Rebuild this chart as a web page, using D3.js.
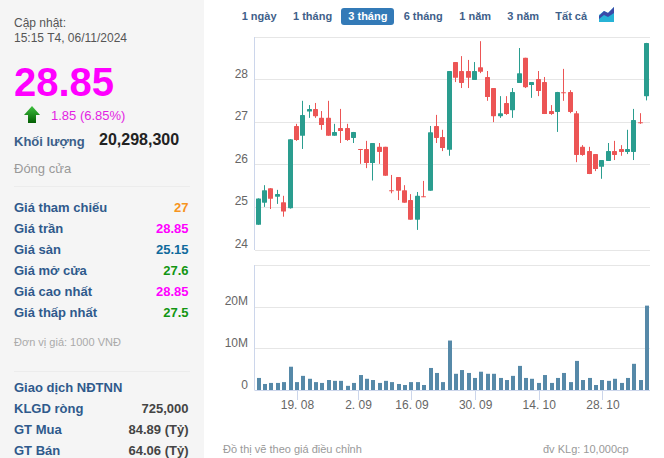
<!DOCTYPE html>
<html><head><meta charset="utf-8">
<script src="https://cdnjs.cloudflare.com/ajax/libs/d3/7.8.5/d3.min.js"></script>
<style>html,body{margin:0;padding:0;background:#fff}svg{display:block}text{font-family:"Liberation Sans",Arial,sans-serif}</style>
</head><body><div id="c"></div>
<script>
const opens=[24.58,25.10,25.44,25.24,25.11,24.97,26.90,26.67,27.24,27.30,27.09,27.09,26.67,26.85,26.85,26.62,26.36,26.36,26.03,26.41,26.41,25.39,25.70,25.39,25.16,24.70,25.25,25.38,26.90,26.64,26.34,28.40,28.19,28.19,27.98,28.28,28.05,27.79,27.13,27.44,27.27,27.91,28.50,27.86,28.00,27.93,27.25,27.23,27.69,27.70,27.20,26.41,26.31,26.24,25.94,26.08,26.31,26.36,26.29,26.29,26.99,27.60];
const highs=[25.20,25.51,25.44,25.40,25.26,26.59,26.95,27.49,27.39,27.44,27.25,27.49,26.95,27.30,26.95,26.76,26.36,26.55,26.50,26.50,26.41,25.75,25.70,25.51,25.30,25.35,25.61,26.90,27.16,26.81,28.19,28.40,28.54,28.45,28.40,28.89,28.19,27.79,27.60,27.60,27.79,28.73,28.50,27.93,28.19,28.05,27.39,27.70,28.24,27.74,27.25,26.45,26.41,26.24,26.10,26.50,26.55,26.45,26.81,27.30,27.20,28.85];
const lows=[24.58,25.00,24.95,25.07,24.77,24.96,26.55,26.36,27.09,27.09,26.81,26.67,26.67,26.50,26.55,26.50,26.01,25.91,25.62,26.01,25.73,25.32,25.16,25.10,24.70,24.46,25.23,25.38,26.50,26.31,26.20,27.93,27.79,27.79,27.98,28.14,27.49,26.99,27.09,27.16,27.09,27.91,27.79,27.56,27.60,27.18,27.16,26.76,27.49,27.20,26.05,26.20,25.77,25.84,25.66,26.08,26.10,26.20,26.24,26.10,26.95,27.50];
const closes=[25.20,25.39,25.19,25.30,24.89,26.59,26.57,27.16,27.30,27.13,26.92,26.67,26.76,26.78,26.57,26.76,26.34,26.03,26.50,26.29,25.73,25.38,25.38,25.10,24.70,25.26,25.24,26.75,26.62,26.38,28.19,28.03,27.91,28.03,28.19,28.17,27.58,27.13,27.20,27.18,27.70,28.14,27.81,27.93,27.72,27.18,27.18,27.70,27.68,27.23,26.22,26.22,25.77,25.89,26.10,26.31,26.22,26.29,26.36,27.04,26.97,28.85];
const volumes=[2.9,1.45,1.7,1.7,1.9,5.6,1.9,3.4,2.7,1.9,1.7,2.4,2.2,2.2,1.0,1.7,3.6,2.7,2.4,1.7,2.2,1.9,1.45,1.2,1.9,1.9,1.2,5.3,4.1,1.9,11.9,3.9,4.8,4.1,2.9,4.4,3.9,3.9,2.9,2.4,3.4,5.8,2.9,2.7,1.7,3.6,1.7,2.9,4.1,1.9,7.0,2.4,2.9,1.2,2.4,2.2,2.7,1.7,2.9,6.3,2.4,20.3];
const xTickIndex=[6,15.6,24,34,44,54];
const xTickLabels=["19. 08","2. 09","16. 09","30. 09","14. 10","28. 10"];
const priceTicks=[24,25,26,27,28,29];
const priceLabels=[24,25,26,27,28];
const volumeTicks=[0,10,20,30];
const volumeLabels=[0,10,20];
const ranges=["1 ngày","1 tháng","3 tháng","6 tháng","1 năm","3 năm","Tất cả"];
const activeRange="3 tháng";
const priceRows=[["Giá tham chiếu","27","#f7941d"],["Giá trần","28.85","#f0f"],["Giá sàn","25.15","#0f6a9c"],["Giá mở cửa","27.6","#129512"],["Giá cao nhất","28.85","#f0f"],["Giá thấp nhất","27.5","#129512"]];
const foreignRows=[["KLGD ròng","725,000"],["GT Mua","84.89 (Tỷ)"],["GT Bán","64.06 (Tỷ)"]];

const W=664,H=458,LBL="#2f5a8c",UP="#2a9d8f",DOWN="#ec5555",GRID="#e6e6e6",AX="#ccd6eb",TXT="#666";
const svg=d3.select("#c").append("svg").attr("width",W).attr("height",H);
const defs=svg.append("defs");
const g1=defs.append("linearGradient").attr("id","arr").attr("x1",0).attr("x2",0).attr("y1",0).attr("y2",1);
g1.append("stop").attr("offset",0).attr("stop-color","#3fc13f");g1.append("stop").attr("offset",1).attr("stop-color","#045f04");

// left panel
svg.append("rect").attr("width",204).attr("height",H).attr("fill","#f5f5f5");
const T=(x,y,s,o={})=>svg.append("text").attr("x",x).attr("y",y).text(s).attr("font-size",o.size||12).attr("font-weight",o.bold?"bold":"normal").attr("fill",o.fill||"#555").attr("text-anchor",o.anchor||"start");
T(14,27,"Cập nhật:");
T(14,41.5,"15:15 T4, 06/11/2024");
T(14,96,"28.85",{size:40,bold:true,fill:"#f0f"});
svg.append("path").attr("d","M32 106L40 115H36V123H28V115H24Z").attr("fill","url(#arr)");
T(51,119.5,"1.85 (6.85%)",{size:13,fill:"#e31ee3"});
T(14,146,"Khối lượng",{size:13,bold:true,fill:"#3b5f8a"});
T(99,145,"20,298,300",{size:16,bold:true,fill:"#222"});
T(14,173,"Đóng cửa",{size:13,fill:"#999"});
const div=y=>svg.append("line").attr("x1",14).attr("x2",190).attr("y1",y).attr("y2",y).attr("stroke","#ececec");
div(186.5);div(371.5);
priceRows.forEach((r,i)=>{const y=212+i*21;T(14,y,r[0],{size:13,bold:true,fill:LBL});T(188.5,y,r[1],{size:13,bold:true,fill:r[2],anchor:"end"});});
T(14,346,"Đơn vị giá: 1000 VNĐ",{size:11,fill:"#aaa"});
T(14,392,"Giao dịch NĐTNN",{size:13,bold:true,fill:LBL});
foreignRows.forEach((r,i)=>{const y=413+i*21;T(14,y,r[0],{size:13,bold:true,fill:LBL});T(188.5,y,r[1],{size:13,bold:true,fill:"#444",anchor:"end"});});

// range selector
const rangeX=[241.7,293,348.3,403.7,459.3,507.3,555.3];
svg.append("rect").attr("x",341).attr("y",8).attr("width",53).attr("height",17).attr("rx",3).attr("fill","#337ab7");
ranges.forEach((r,i)=>T(rangeX[i],20,r,{size:11,bold:true,fill:r===activeRange?"#fff":"#3f5f8a"}));
svg.append("path").attr("d","M599 22V15L604 11L608 13L614 7V22Z").attr("fill","#27b3d6");
svg.append("path").attr("d","M599 16L604 11L608 13L614 7V13L608 17L604 15L599 19Z").attr("fill","#3b4aa8");

// scales
const x=d3.scaleLinear().domain([0,61]).range([258.7,647]);
const yP=d3.scaleLinear().domain([24,29]).range([249.5,36.5]);
const yV=d3.scaleLinear().domain([0,30]).range([390,265.3]);
const L=254.5,R=650;

function yAxis(scale,ticks,labels,fmt){
  const a=svg.append("g").attr("transform",`translate(${L},0)`).call(d3.axisLeft(scale).tickValues(ticks).tickSize(-(R-L)).tickPadding(6).tickFormat(d=>labels.includes(d)?fmt(d):""));
  a.select(".domain").remove();
  a.selectAll("line").attr("stroke",GRID).attr("stroke-width",1).attr("shape-rendering","crispEdges");
  a.selectAll("text").attr("font-size",12).attr("fill",TXT).attr("dy",-2).attr("font-family","Liberation Sans");
  a.selectAll("text").attr("y",0).attr("x",-6.5);
  svg.append("line").attr("x1",L).attr("x2",L).attr("y1",scale.range()[1]).attr("y2",scale.range()[0]).attr("stroke",AX).attr("shape-rendering","crispEdges");
}
yAxis(yP,priceTicks,priceLabels,d=>d);
yAxis(yV,volumeTicks,volumeLabels,d=>d?d+"M":"0");

// x axis
const xa=svg.append("g").attr("transform","translate(0,390)").call(d3.axisBottom(x).tickValues(xTickIndex).tickSize(10).tickFormat((d,i)=>xTickLabels[i]));
xa.select(".domain").attr("d",`M${L},0.5H${R}`).attr("stroke",AX);
xa.selectAll("line").attr("stroke",AX).attr("shape-rendering","crispEdges");
xa.selectAll("text").attr("font-size",12).attr("fill",TXT).attr("font-family","Liberation Sans").attr("y",19).attr("dy",0);

// volume
svg.append("g").selectAll("rect").data(volumes).join("rect")
  .attr("x",(d,i)=>Math.round(x(i))-2).attr("width",4)
  .attr("y",d=>yV(d)).attr("height",d=>yV(0)-yV(d)).attr("fill","#5689a8");

// candles
const candles=d3.range(opens.length).map(i=>({i,o:opens[i],h:highs[i],l:lows[i],c:closes[i]}));
const cg=svg.append("g").selectAll("g").data(candles).join("g").attr("fill",d=>d.c>=d.o?UP:DOWN).attr("stroke",d=>d.c>=d.o?UP:DOWN);
cg.append("line").attr("x1",d=>Math.round(x(d.i))-.5).attr("x2",d=>Math.round(x(d.i))-.5).attr("y1",d=>yP(d.h)).attr("y2",d=>yP(d.l));
cg.append("rect").attr("x",d=>Math.round(x(d.i))-3).attr("width",5).attr("stroke","none").attr("rx",.6)
  .attr("y",d=>yP(Math.max(d.o,d.c))).attr("height",d=>Math.max(1,Math.abs(yP(d.o)-yP(d.c))));

T(223,453,"Đồ thị vẽ theo giá điều chỉnh",{size:11,fill:"#999"});
T(543,453,"đv KLg: 10,000cp",{size:11,fill:"#999"});
</script></body></html>
